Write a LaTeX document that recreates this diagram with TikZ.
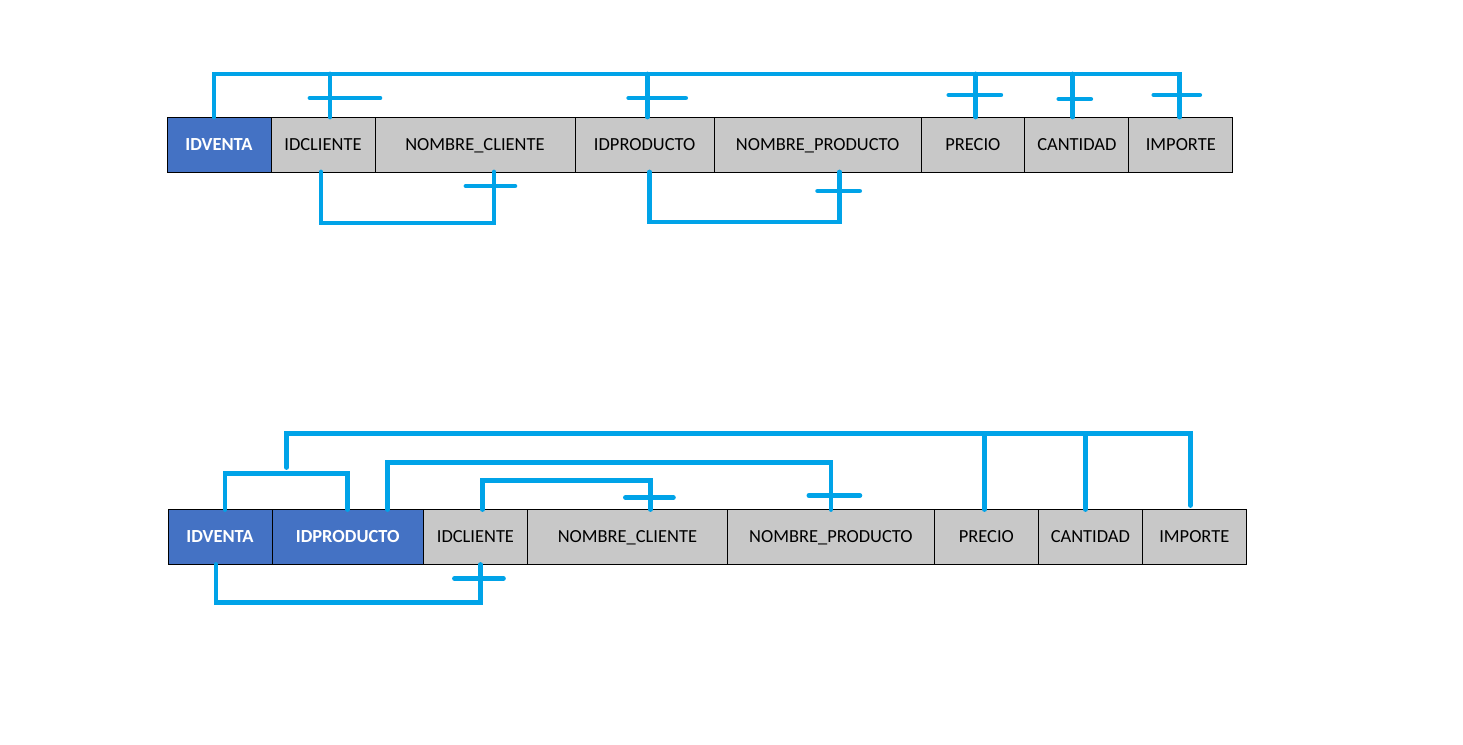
\documentclass[tikz,border=0pt]{standalone}
\usepackage{fontspec}
\setmainfont{Carlito}
\usepackage{tikz}
\usetikzlibrary{positioning}
\definecolor{cellgray}{HTML}{C8C8C8}
\definecolor{keyblue}{HTML}{4472C4}
\definecolor{linkblue}{HTML}{00A3E8}
\tikzstyle{cell} = [rectangle, minimum width=2.08cm, minimum height=1.1cm, inner sep=0pt, outer sep=0pt, text height=6.6pt, text depth=0pt, text centered, draw=black, fill=cellgray, font=\fontsize{10.5}{12}\selectfont]
\tikzstyle{key} = [cell, fill=keyblue, text=white, font=\fontsize{10.5}{12}\selectfont\bfseries]
\tikzstyle{link} = [line width=2.7pt, draw=linkblue, line cap=round]

\begin{document}
\begin{tikzpicture}[x=0.02cm, y=0.02cm]
    \useasboundingbox (0,0) rectangle (1463,744);
    % first table
    \node (venta1) [key, anchor=west] at (167,599.5) {IDVENTA};
    \node (cliente1) [cell, right=0pt of venta1] {IDCLIENTE};
    \node (nomcliente1) [cell, right=0pt of cliente1, minimum width=4cm] {NOMBRE\_CLIENTE};
    \node (producto1) [cell, right=0pt of nomcliente1, minimum width=2.79cm] {IDPRODUCTO};
    \node (nomproducto1) [cell, right=0pt of producto1, minimum width=4.13cm] {NOMBRE\_PRODUCTO};
    \node (precio1) [cell, right=0pt of nomproducto1] {PRECIO};
    \node (cantidad1) [cell, right=0pt of precio1] {CANTIDAD};
    \node (importe1) [cell, right=0pt of cantidad1] {IMPORTE};
    % dependencies above
    \draw [link] ([shift={(-5,0)}]venta1.north) -- ++(0,43) -| ([shift={(-1,0)}]importe1.north);
    \draw [link] ([shift={(7,0)}]cliente1.north) -- ++(0,43);
    \draw [link] ([shift={(-13,19)}]cliente1.north) -- ++(70,0);
    \draw [link] ([shift={(3,0)}]producto1.north) -- ++(0,43);
    \draw [link] ([shift={(-16,19)}]producto1.north) -- ++(57,0);
    \draw [link] ([shift={(3,0)}]precio1.north) -- ++(0,43);
    \draw [link] ([shift={(-24,22)}]precio1.north) -- ++(52,0);
    \draw [link] ([shift={(-4,0)}]cantidad1.north) -- ++(0,43);
    \draw [link] ([shift={(-18,18)}]cantidad1.north) -- ++(32,0);
    \draw [link] ([shift={(-27,22)}]importe1.north) -- ++(46,0);
    % dependencies below
    \draw [link] ([shift={(-2,0)}]cliente1.south) -- ++(0,-51) -| ([shift={(19,0)}]nomcliente1.south);
    \draw [link] ([shift={(-9,-14)}]nomcliente1.south) -- ++(49,0);
    \draw [link] ([shift={(5,0)}]producto1.south) -- ++(0,-50) -| ([shift={(22,0)}]nomproducto1.south);
    \draw [link] ([shift={(0,-19)}]nomproducto1.south) -- ++(42,0);

    % second table
    \node (venta2) [key, anchor=west] at (168,207) {IDVENTA};
    \node (producto2) [key, right=0pt of venta2, minimum width=3.03cm] {IDPRODUCTO};
    \node (cliente2) [cell, right=0pt of producto2] {IDCLIENTE};
    \node (nomcliente2) [cell, right=0pt of cliente2, minimum width=4cm] {NOMBRE\_CLIENTE};
    \node (nomproducto2) [cell, right=0pt of nomcliente2, minimum width=4.14cm] {NOMBRE\_PRODUCTO};
    \node (precio2) [cell, right=0pt of nomproducto2] {PRECIO};
    \node (cantidad2) [cell, right=0pt of precio2] {CANTIDAD};
    \node (importe2) [cell, right=0pt of cantidad2] {IMPORTE};
    % composite key
    \draw [link] ([shift={(5,0)}]venta2.north) -- ++(0,36) -| coordinate[pos=0.25] (pk) (producto2.north);
    \draw [link] ([shift={(0,6)}]pk) -- ++(0,34) -| ([shift={(-4,4)}]importe2.north);
    \draw [link] ([shift={(-2,0)}]precio2.north) -- ++(0,76);
    \draw [link] ([shift={(-5,0)}]cantidad2.north) -- ++(0,76);
    % partial dependencies
    \draw [link] ([shift={(40,0)}]producto2.north) -- ++(0,47) -| (nomproducto2.north);
    \draw [link] ([shift={(-22,14)}]nomproducto2.north) -- ++(51,0);
    \draw [link] ([shift={(7,0)}]cliente2.north) -- ++(0,29) -| ([shift={(23,0)}]nomcliente2.north);
    \draw [link] ([shift={(-2,12)}]nomcliente2.north) -- ++(48,0);
    \draw [link] ([shift={(-4,0)}]venta2.south) -- ++(0,-38) -| ([shift={(5,0)}]cliente2.south);
    \draw [link] ([shift={(-21,-14)}]cliente2.south) -- ++(49,0);
\end{tikzpicture}
\end{document}
